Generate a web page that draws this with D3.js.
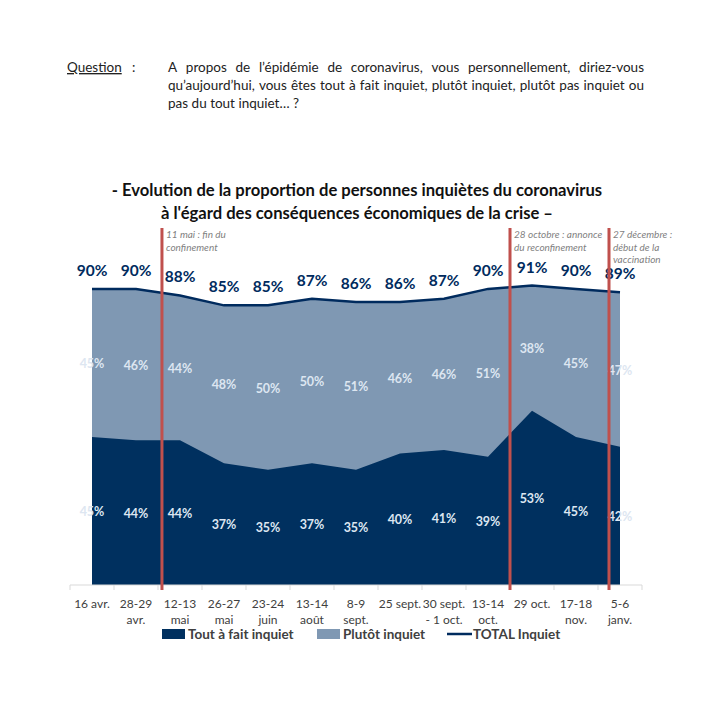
<!DOCTYPE html>
<html>
<head>
<meta charset="utf-8">
<script src="https://cdn.jsdelivr.net/npm/d3@7"></script>
<style>
  body { margin: 0; background: #fff; }
  svg { font-family: Lato, "Open Sans", sans-serif; }
</style>
</head>
<body>
<div id="chart"></div>
<script>
// data
const dates = ['16 avr.', '28-29 avr.', '12-13 mai', '26-27 mai', '23-24 juin', '13-14 août', '8-9 sept.',
  '25 sept.', '30 sept. - 1 oct.', '13-14 oct.', '29 oct.', '17-18 nov.', '5-6 janv.'];
const dateLines = [['16 avr.'], ['28-29', 'avr.'], ['12-13', 'mai'], ['26-27', 'mai'], ['23-24', 'juin'],
  ['13-14', 'août'], ['8-9', 'sept.'], ['25 sept.'], ['30 sept.', '- 1 oct.'], ['13-14', 'oct.'],
  ['29 oct.'], ['17-18', 'nov.'], ['5-6', 'janv.']];
const toutAFait = [45, 44, 44, 37, 35, 37, 35, 40, 41, 39, 53, 45, 42];
const plutot = [45, 46, 44, 48, 50, 50, 51, 46, 46, 51, 38, 45, 47];
const total = [90, 90, 88, 85, 85, 87, 86, 86, 87, 90, 91, 90, 89];
// events: position as fractional index between survey dates
const events = [
  { pos: 1.59, lines: ['11 mai : fin du', 'confinement'] },
  { pos: 9.5, lines: ['28 octobre : annonce', 'du reconfinement'] },
  { pos: 11.75, lines: ['27 décembre :', 'début de la', 'vaccination'] }
];
const questionText = "A propos de l’épidémie de coronavirus, vous personnellement, diriez-vous qu’aujourd’hui, vous êtes tout à fait inquiet, plutôt inquiet, plutôt pas inquiet ou pas du tout inquiet… ?";

const width = 711, height = 705;
const svg = d3.select('#chart').append('svg')
  .attr('width', width).attr('height', height);

const dark = '#00305f', light = '#7f98b3', navy = '#002b5e', red = '#c0504d';

// question block
svg.append('text').attr('x', 67).attr('y', 72)
  .attr('font-size', 13.5).attr('fill', '#222').attr('text-decoration', 'underline').text('Question');
svg.append('text').attr('x', 132).attr('y', 72).attr('font-size', 13.5).attr('fill', '#222').text(':');

(function justify() {
  const x0 = 168, x1 = 644, lh = 18;
  const words = questionText.split(' ');
  const tmp = svg.append('text').attr('font-size', 13.5).attr('visibility', 'hidden');
  const wlen = w => { tmp.text(w); return tmp.node().getComputedTextLength(); };
  const space = wlen('a b') - wlen('ab');
  let lines = [], cur = [], curW = 0;
  words.forEach(w => {
    const l = wlen(w);
    const nw = cur.length ? curW + space + l : l;
    if (nw > x1 - x0 && cur.length) { lines.push(cur); cur = [{ w, l }]; curW = l; }
    else { cur.push({ w, l }); curW = nw; }
  });
  lines.push(cur);
  tmp.remove();
  lines.forEach((ln, li) => {
    const wsum = d3.sum(ln, d => d.l);
    const gap = (li < lines.length - 1 && ln.length > 1) ? (x1 - x0 - wsum) / (ln.length - 1) : space;
    let x = x0;
    ln.forEach(d => {
      svg.append('text').attr('x', x).attr('y', 72 + li * lh)
        .attr('font-size', 13.5).attr('fill', '#222').text(d.w);
      x += d.l + gap;
    });
  });
})();

// title
svg.append('text').attr('x', 357).attr('y', 196).attr('text-anchor', 'middle')
  .attr('font-size', 16.6).attr('font-weight', 'bold').attr('fill', '#111')
  .text('- Evolution de la proportion de personnes inquiètes du coronavirus');
svg.append('text').attr('x', 357).attr('y', 219).attr('text-anchor', 'middle')
  .attr('font-size', 16.6).attr('font-weight', 'bold').attr('fill', '#111')
  .text('à l\'égard des conséquences économiques de la crise –');

// scales
const x = d3.scalePoint().domain(dates).range([92, 620]);
const step = x.step();
const y = d3.scaleLinear().domain([0, 100]).range([585, 256]);
const xi = i => x(dates[0]) + i * step;

const rows = dates.map((d, i) => ({ d, t: toutAFait[i], p: plutot[i], tot: total[i] }));

// stacked areas
svg.append('path').datum(rows)
  .attr('fill', light)
  .attr('d', d3.area().x(r => x(r.d)).y0(y(0)).y1(r => y(r.t + r.p)));
svg.append('path').datum(rows)
  .attr('fill', dark)
  .attr('d', d3.area().x(r => x(r.d)).y0(y(0)).y1(r => y(r.t)));
svg.append('path').datum(rows)
  .attr('fill', 'none').attr('stroke', navy).attr('stroke-width', 2.5)
  .attr('d', d3.line().x(r => x(r.d)).y(r => y(r.tot)));

// value labels
const lab = svg.append('g').attr('font-weight', 'bold').attr('text-anchor', 'middle');
lab.selectAll('.tot').data(rows).join('text')
  .attr('x', r => x(r.d)).attr('y', r => y(r.tot) - 13)
  .attr('font-size', 15.5).attr('fill', navy).text(r => r.tot + '%');
lab.selectAll('.pl').data(rows).join('text')
  .attr('x', r => x(r.d)).attr('y', r => y(r.t + r.p / 2) + 5)
  .attr('font-size', 12.5).attr('fill', '#dde6f1').text(r => r.p + '%');
lab.selectAll('.ta').data(rows).join('text')
  .attr('x', r => x(r.d)).attr('y', r => y(r.t / 2) + 5)
  .attr('font-size', 12.5).attr('fill', '#dde6f1').text(r => r.t + '%');

// x axis
const axisG = svg.append('g');
axisG.append('line').attr('x1', x(dates[0]) - step / 2).attr('x2', x(dates[dates.length - 1]) + step / 2)
  .attr('y1', y(0)).attr('y2', y(0)).attr('stroke', '#d9d9d9').attr('stroke-width', 1);
axisG.selectAll('.tk').data(d3.range(dates.length + 1)).join('line')
  .attr('x1', i => xi(i - 0.5)).attr('x2', i => xi(i - 0.5))
  .attr('y1', y(0)).attr('y2', y(0) + 5).attr('stroke', '#d9d9d9');
dateLines.forEach((ls, i) => {
  ls.forEach((t, j) => {
    axisG.append('text').attr('x', x(dates[i])).attr('y', 608 + j * 16)
      .attr('text-anchor', 'middle').attr('font-size', 12).attr('fill', '#404040').text(t);
  });
});

// event lines
events.forEach(ev => {
  const ex = xi(ev.pos);
  svg.append('line').attr('x1', ex).attr('x2', ex).attr('y1', 228).attr('y2', y(0) + 5)
    .attr('stroke', red).attr('stroke-width', 3);
  ev.lines.forEach((t, j) => {
    svg.append('text').attr('x', ex + 4).attr('y', 238 + j * 12.5)
      .attr('font-size', 10).attr('font-style', 'italic').attr('fill', '#7f7f7f').text(t);
  });
});

// legend
const lg = svg.append('g').attr('font-size', 13.5).attr('font-weight', 'bold').attr('fill', '#404040');
lg.append('rect').attr('x', 162).attr('y', 629).attr('width', 23).attr('height', 10).attr('fill', dark);
lg.append('text').attr('x', 188).attr('y', 639).text('Tout à fait inquiet');
lg.append('rect').attr('x', 317).attr('y', 629).attr('width', 23).attr('height', 10).attr('fill', light);
lg.append('text').attr('x', 343).attr('y', 639).text('Plutôt inquiet');
lg.append('line').attr('x1', 447).attr('x2', 472).attr('y1', 634).attr('y2', 634)
  .attr('stroke', navy).attr('stroke-width', 2.5);
lg.append('text').attr('x', 473).attr('y', 639).text('TOTAL Inquiet');
</script>
</body>
</html>
